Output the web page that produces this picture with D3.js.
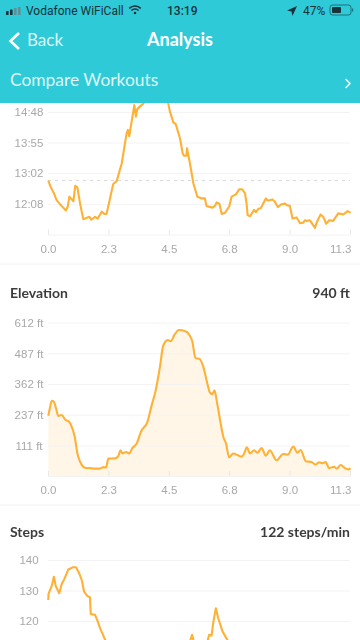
<!DOCTYPE html>
<html>
<head>
<meta charset="utf-8">
<script src="https://cdn.jsdelivr.net/npm/d3@7"></script>
<style>
  html, body { margin: 0; padding: 0; background: #fff; overflow: hidden; }
  svg { display: block; font-family: Lato, "Open Sans", sans-serif; }
</style>
</head>
<body>
<div id="container"></div>
<script>
const width = 360;
const height = 640;

// Distance axis shared by all three charts
const xTicks = [0, 2.26, 4.52, 6.78, 9.04, 11.3];

// Pace (seconds per mile) — the peak runs behind the header, so its top is a guess
const paceX = [0.01,0.10,0.22,0.32,0.45,0.67,0.74,0.80,0.95,1.02,1.10,1.20,1.32,1.55,1.62,1.76,1.86,2.01,2.11,2.19,2.32,2.44,2.57,2.76,2.94,2.99,3.04,3.23,3.29,3.34,3.57,4.0,4.3,4.50,4.56,4.69,4.78,4.94,5.04,5.09,5.18,5.20,5.31,5.44,5.59,5.75,5.87,5.93,6.15,6.25,6.31,6.41,6.50,6.62,6.78,6.87,7.03,7.16,7.26,7.37,7.43,7.47,7.56,7.71,7.78,7.87,7.96,8.15,8.22,8.40,8.49,8.60,8.74,8.87,8.95,9.05,9.15,9.30,9.43,9.55,9.61,9.68,9.80,9.99,10.07,10.20,10.30,10.41,10.52,10.67,10.86,11.05,11.21,11.32];
const paceY = [769,758,747,735,728,717,724,741,733,760,757,729,702,706,701,706,703,715,711,711,738,763,768,799,851,857,846,900,880,893,903,925,925,903,889,870,867,842,816,812,812,825,799,764,741,738,738,725,722,725,731,729,711,713,724,741,745,754,754,747,729,709,707,718,714,720,721,738,734,736,732,723,728,729,726,725,703,705,695,696,700,699,700,687,698,710,706,694,700,699,712,710,716,713];
const paceTicks = [728, 782, 835, 888];
const paceLabels = ["12:08", "13:02", "13:55", "14:48"];
const paceAvg = 769;

// Elevation (ft)
const elevX = [0.01,0.07,0.14,0.22,0.30,0.39,0.51,0.66,0.79,0.86,1.00,1.10,1.22,1.38,1.57,1.76,1.95,2.04,2.17,2.26,2.51,2.63,2.71,2.79,2.92,3.04,3.15,3.32,3.48,3.72,3.88,4.03,4.19,4.31,4.48,4.60,4.73,4.90,5.12,5.29,5.40,5.52,5.66,5.81,5.96,6.06,6.15,6.23,6.33,6.46,6.56,6.66,6.78,6.93,7.12,7.24,7.34,7.44,7.56,7.71,7.84,7.99,8.15,8.30,8.55,8.80,8.97,9.18,9.33,9.45,9.65,9.86,10.01,10.15,10.27,10.39,10.52,10.70,10.80,10.95,11.14,11.24,11.32];
const elevY = [233,263,294,290,263,232,236,215,208,195,147,79,41,21,19,17,17,22,22,58,59,68,92,79,85,79,100,120,168,208,276,337,433,518,541,537,562,582,578,562,535,467,465,433,365,327,321,336,283,202,147,120,63,79,71,66,79,104,79,92,82,101,70,92,51,77,74,107,82,93,47,44,34,43,39,44,19,25,17,32,17,14,18];
const elevTicks = [111, 237, 362, 487, 612];
const elevLabels = ["111 ft", "237 ft", "362 ft", "487 ft", "612 ft"];

// Steps (steps/min) — below 113 the line is off the bottom of the screen
const stepsX = [0.01,0.02,0.14,0.22,0.29,0.42,0.52,0.61,0.76,0.92,1.05,1.17,1.27,1.35,1.47,1.57,1.60,1.76,1.85,1.95,2.17,2.6,3.5,4.5,5.1,5.31,5.39,5.46,5.69,5.96,6.03,6.12,6.18,6.28,6.37,6.53,6.75,7.2];
const stepsY = [126.9,128.9,131.5,134.5,131.5,129.1,132.3,133.7,136.9,137.6,137.6,135.6,133.2,129.6,128.2,127.8,122.3,122,120.1,117.6,113.2,109,108,108,110,113.2,115.5,113.2,111,113.2,115.5,115.2,119.3,124.2,120.9,116.6,113.2,108];
const stepsTicks = [120, 130, 140];
const stepsLabels = ["120", "130", "140"];

const svg = d3.select("#container").append("svg")
  .attr("width", width).attr("height", height)
  .style("filter", "blur(0.35px)");

const x = d3.scaleLinear().domain([0, 11.3]).range([48, 350]);

const lineColor = "#ffb136";
const gridColor = "#f3f3f3";
const tickText = "#a8a8a8";

function drawChart(xs, ys, ticks, labels, yDomain, yRange, opts) {
  const y = d3.scaleLinear().domain(yDomain).range(yRange);
  const pts = xs.map((d, i) => [d, ys[i]]);
  const g = svg.append("g");

  if (opts.area) {
    g.append("path")
      .attr("d", d3.area().x((d) => x(d[0])).y0(yRange[0]).y1((d) => y(d[1])).curve(opts.curve)(pts))
      .attr("fill", "#fff6e8");
  }

  // Horizontal grid and centred tick labels
  const yAxis = g.append("g").attr("transform", "translate(48,0)")
    .call(d3.axisLeft(y).tickValues(ticks).tickSize(-302).tickFormat((d, i) => labels[i]));
  yAxis.select(".domain").remove();
  yAxis.selectAll("line").attr("stroke", gridColor).attr("stroke-width", 1);
  yAxis.selectAll("text")
    .attr("x", -19).attr("text-anchor", "middle")
    .attr("fill", tickText).style("font-size", "11.5px");

  // Baseline with short ticks pointing up; the steps chart ends below the screen
  if (opts.xAxis) {
    const xAxis = g.append("g").attr("transform", `translate(0,${yRange[0]})`)
      .call(d3.axisBottom(x).tickValues(xTicks).tickSize(-5).tickPadding(10).tickFormat(d3.format(".1f")));
    xAxis.select(".domain").attr("stroke", gridColor).attr("stroke-width", 1);
    xAxis.selectAll("line").attr("stroke", "#e8e8e8");
    xAxis.selectAll("text").attr("fill", tickText).style("font-size", "11.5px");
    // last label is pulled back inside the screen
    xAxis.selectAll(".tick:last-of-type text").attr("text-anchor", "end").attr("x", 1);
  }

  const plot = { g, y };
  plot.drawLine = () => g.append("path")
    .attr("d", d3.line().x((d) => x(d[0])).y((d) => y(d[1])).curve(opts.curve)(pts))
    .attr("fill", "none")
    .attr("stroke", lineColor)
    .attr("stroke-width", 2.1)
    .attr("stroke-linejoin", "round");
  return plot;
}

function title(label, value, yPos) {
  svg.append("text").attr("x", 10).attr("y", yPos)
    .attr("fill", "#3c3c3c").style("font-size", "14px").style("font-weight", "700").text(label);
  svg.append("text").attr("x", 350).attr("y", yPos).attr("text-anchor", "end")
    .attr("fill", "#3c3c3c").style("font-size", "14px").style("font-weight", "700").text(value);
}

function separator(yPos) {
  svg.append("line").attr("x1", 0).attr("x2", width).attr("y1", yPos).attr("y2", yPos)
    .attr("stroke", "#f2f2f2");
}

// Pace chart
const pace = drawChart(paceX, paceY, paceTicks, paceLabels, [675, 888], [234.7, 112],
  { area: false, xAxis: true, curve: d3.curveLinear });
pace.g.append("line")
  .attr("x1", 48).attr("x2", 350)
  .attr("y1", pace.y(paceAvg)).attr("y2", pace.y(paceAvg))
  .attr("stroke", "#d8d8d8").attr("stroke-dasharray", "3 4");
pace.drawLine();
separator(264);

// Elevation chart
title("Elevation", "940 ft", 297.5);
const elev = drawChart(elevX, elevY, elevTicks, elevLabels, [-13, 612], [476, 322.7],
  { area: true, xAxis: true, curve: d3.curveMonotoneX });
elev.drawLine();
separator(505);

// Steps chart
title("Steps", "122 steps/min", 537);
const steps = drawChart(stepsX, stepsY, stepsTicks, stepsLabels, [100, 140], [682, 560],
  { area: false, xAxis: false, curve: d3.curveLinear });
steps.drawLine();

// Header sits on top and hides the clipped pace peak
const teal = "#2ecad8";
const header = svg.append("g");
header.append("rect").attr("width", width).attr("height", 103).attr("fill", teal);

const statusInk = "#17323a";
const statusStyle = (s) => s.attr("fill", statusInk)
  .style("font-family", "Roboto, sans-serif").style("font-size", "12px");

// Signal bars
[[6, 9, 2], [10, 7.5, 3.5], [14, 6, 5], [18, 5, 6]].forEach(([bx, by, bh], i) => {
  header.append("rect").attr("x", bx).attr("y", by + 2).attr("width", 2.6).attr("height", Math.max(bh + 2, 4))
    .attr("rx", 0.6).attr("fill", i < 2 ? statusInk : "#5d8f98");
});
header.append("text").call(statusStyle).attr("x", 26).attr("y", 14.5).text("Vodafone WiFiCall");

// Wi-Fi arcs
const wifi = header.append("g").attr("transform", "translate(135,14)").attr("fill", "none")
  .attr("stroke", statusInk).attr("stroke-width", 1.6);
[8, 5].forEach((r) => {
  wifi.append("path").attr("d", d3.arc().innerRadius(r).outerRadius(r).startAngle(-0.8).endAngle(0.8)());
});
wifi.append("circle").attr("cy", -1).attr("r", 1.3).attr("fill", statusInk).attr("stroke", "none");

header.append("text").call(statusStyle).attr("x", 167).attr("y", 14.5).style("font-weight", "500").text("13:19");

// Location arrow
header.append("path").attr("d", "M287,10.5 L297,6 L292.5,16 L291.5,11.5 Z").attr("fill", statusInk);
header.append("text").call(statusStyle).attr("x", 303).attr("y", 14.5).text("47%");

// Battery
header.append("rect").attr("x", 330).attr("y", 5).attr("width", 21).attr("height", 10).attr("rx", 2.5)
  .attr("fill", "none").attr("stroke", statusInk).attr("stroke-opacity", 0.6);
header.append("rect").attr("x", 332).attr("y", 7).attr("width", 9).attr("height", 6).attr("rx", 1).attr("fill", statusInk);
header.append("rect").attr("x", 352).attr("y", 8.5).attr("width", 1.2).attr("height", 3).attr("fill", statusInk).attr("fill-opacity", 0.6);

// Nav row
header.append("path").attr("d", "M19,33 L10.5,41 L19,49").attr("fill", "none")
  .attr("stroke", "#fff").attr("stroke-width", 2.6);
header.append("text").attr("x", 27).attr("y", 46)
  .attr("fill", "#fff").attr("fill-opacity", 0.85).style("font-size", "17px").text("Back");
header.append("text").attr("x", 180).attr("y", 46).attr("text-anchor", "middle")
  .attr("fill", "#fff").style("font-size", "18px").style("font-weight", "700").text("Analysis");

header.append("text").attr("x", 10).attr("y", 86)
  .attr("fill", "#fff").attr("fill-opacity", 0.85).style("font-size", "17.4px").text("Compare Workouts");
header.append("path").attr("d", "M345.5,79 L350,83.5 L345.5,88").attr("fill", "none")
  .attr("stroke", "#fff").attr("stroke-opacity", 0.9).attr("stroke-width", 1.6);
</script>
</body>
</html>
